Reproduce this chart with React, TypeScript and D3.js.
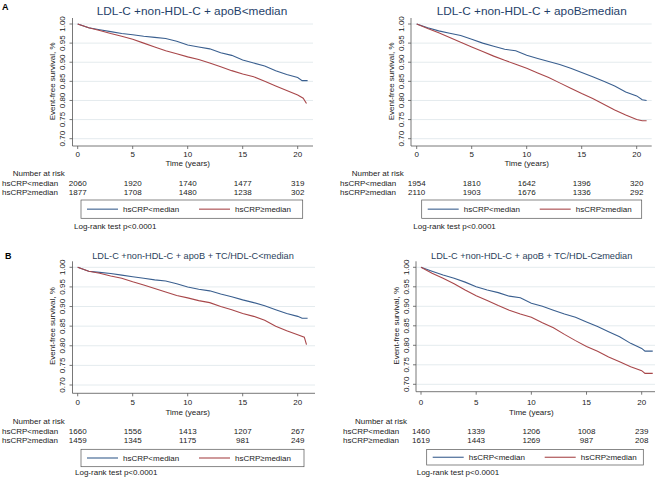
import React from "react";
import * as d3 from "d3";

// ---------- data ----------
const YEARS = [0, 1, 2, 3, 4, 5, 6, 7, 8, 9, 10, 11, 12, 13, 14, 15, 16, 17, 18, 19, 20];
const X_TICKS = [0, 5, 10, 15, 20];
const Y_TICKS = [0.7, 0.75, 0.8, 0.85, 0.9, 0.95, 1.0];
const SERIES_NAMES = ["hsCRP<median", "hsCRP\u2265median"];

const TITLES = [
  "LDL-C +non-HDL-C + apoB<median",
  "LDL-C +non-HDL-C + apoB\u2265median",
  "LDL-C +non-HDL-C + apoB + TC/HDL-C<median",
  "LDL-C +non-HDL-C + apoB + TC/HDL-C\u2265median",
];

// panel A, left
const A1_LOW_T = [...YEARS, 20.4, 20.9];
const A1_LOW = [1, 0.99, 0.985, 0.98, 0.975, 0.972, 0.968, 0.965, 0.962, 0.955, 0.945, 0.94, 0.935, 0.925, 0.918, 0.906, 0.898, 0.89, 0.878, 0.868, 0.86, 0.852, 0.852];
const A1_HIGH_T = [...YEARS, 20.5, 20.8];
const A1_HIGH = [1, 0.99, 0.983, 0.975, 0.968, 0.96, 0.95, 0.94, 0.93, 0.922, 0.914, 0.907, 0.898, 0.888, 0.878, 0.869, 0.862, 0.85, 0.838, 0.826, 0.814, 0.806, 0.792];
const A1_RISK_LOW = [2060, 1920, 1740, 1477, 319];
const A1_RISK_HIGH = [1877, 1708, 1480, 1238, 302];

// panel A, right
const A2_LOW_T = [...YEARS, 20.5, 20.9];
const A2_LOW = [1, 0.99, 0.982, 0.976, 0.97, 0.96, 0.95, 0.942, 0.934, 0.93, 0.918, 0.91, 0.902, 0.894, 0.884, 0.873, 0.862, 0.85, 0.838, 0.822, 0.812, 0.802, 0.8];
const A2_HIGH_T = [...YEARS, 20.5, 20.9];
const A2_HIGH = [1, 0.988, 0.977, 0.965, 0.952, 0.94, 0.928, 0.916, 0.905, 0.895, 0.884, 0.872, 0.86, 0.846, 0.832, 0.818, 0.805, 0.79, 0.775, 0.762, 0.75, 0.747, 0.747];
const A2_RISK_LOW = [1954, 1810, 1642, 1396, 320];
const A2_RISK_HIGH = [2110, 1903, 1676, 1336, 292];

// panel B, left
const B1_LOW_T = [...YEARS, 20.4, 20.9];
const B1_LOW = [1, 0.99, 0.987, 0.984, 0.98, 0.976, 0.972, 0.968, 0.965, 0.958, 0.95, 0.944, 0.94, 0.932, 0.925, 0.917, 0.91, 0.902, 0.892, 0.882, 0.875, 0.87, 0.87];
const B1_HIGH_T = [...YEARS, 20.6, 20.8];
const B1_HIGH = [1, 0.99, 0.985, 0.978, 0.972, 0.963, 0.955, 0.946, 0.937, 0.928, 0.922, 0.915, 0.91, 0.9, 0.892, 0.882, 0.875, 0.865, 0.85, 0.838, 0.828, 0.822, 0.803];
const B1_RISK_LOW = [1660, 1556, 1413, 1207, 267];
const B1_RISK_HIGH = [1459, 1345, 1175, 981, 249];

// panel B, right
const B2_LOW_T = [...YEARS, 20.3, 21];
const B2_LOW = [1, 0.99, 0.98, 0.972, 0.962, 0.95, 0.942, 0.935, 0.926, 0.922, 0.908, 0.9, 0.89, 0.88, 0.872, 0.86, 0.848, 0.835, 0.822, 0.805, 0.792, 0.785, 0.785];
const B2_HIGH_T = [...YEARS, 20.3, 21];
const B2_HIGH = [1, 0.985, 0.972, 0.958, 0.942, 0.927, 0.915, 0.902, 0.89, 0.88, 0.872, 0.858, 0.845, 0.828, 0.812, 0.797, 0.785, 0.77, 0.758, 0.745, 0.735, 0.728, 0.728];
const B2_RISK_LOW = [1460, 1339, 1206, 1008, 239];
const B2_RISK_HIGH = [1619, 1443, 1269, 987, 208];

// ---------- styles ----------
const FONT = "'Liberation Sans', Arial, Helvetica, sans-serif";
const BLUE = "#3a5f8f";
const RED = "#a8474a";
const GRID = "#e4ebee";
const AXIS = "#555";
const TEXT = "#222";

type Layout = {
  axisX: number; x0: number; x20: number; right: number;
  y100: number; y070: number; xAxisY: number;
  titleX: number; titleY: number; titleSize: number; titleColor: string;
  tickLabelY: number; xTitleY: number;
  nrX: number; nrY: number; rowLabelX: number; row1Y: number; row2Y: number;
  legX: number; legY: number; legW: number; legH: number;
  logX: number; logY: number;
  letter?: string; letterX?: number; letterY?: number;
};

function Panel({ L, title, lowT, low, highT, high, riskLow, riskHigh }: {
  L: Layout; title: string; lowT: number[]; low: number[]; highT: number[]; high: number[]; riskLow: number[]; riskHigh: number[];
}) {
  const x = d3.scaleLinear().domain([0, 20]).range([L.x0, L.x20]);
  const y = d3.scaleLinear().domain([0.7, 1.0]).range([L.y070, L.y100]);
  const line = d3.line<[number, number]>().x((d) => x(d[0])).y((d) => y(d[1]));
  const lowPts = lowT.map((t, i) => [t, low[i]] as [number, number]);
  const highPts = highT.map((t, i) => [t, high[i]] as [number, number]);
  const legLineX = [L.legX + 6, L.legX + 118];
  const midY = (L.y100 + L.y070) / 2;
  return (
    <g>
      {L.letter && (
        <text x={L.letterX} y={L.letterY} fontSize={9} fontWeight="bold" fill="#000" fontFamily={FONT}>{L.letter}</text>
      )}
      <text x={L.titleX} y={L.titleY} textAnchor="middle" fontSize={L.titleSize} fill={L.titleColor} fontFamily={FONT}>{title}</text>
      {Y_TICKS.map((v) => (
        <line key={"g" + v} x1={L.axisX} x2={L.right} y1={y(v)} y2={y(v)} stroke={GRID} strokeWidth={1} />
      ))}
      <line x1={L.axisX} x2={L.axisX} y1={L.y100 - 6} y2={L.xAxisY} stroke={AXIS} strokeWidth={0.8} />
      <line x1={L.axisX} x2={L.right} y1={L.xAxisY} y2={L.xAxisY} stroke={AXIS} strokeWidth={0.8} />
      {Y_TICKS.map((v) => (
        <g key={"yt" + v}>
          <line x1={L.axisX - 3} x2={L.axisX} y1={y(v)} y2={y(v)} stroke={AXIS} strokeWidth={0.8} />
          <text transform={`translate(${L.axisX - 7.5},${y(v)}) rotate(-90)`} textAnchor="middle" fontSize={8} fill={TEXT} fontFamily={FONT}>{v.toFixed(2)}</text>
        </g>
      ))}
      <text transform={`translate(${L.axisX - 17.5},${midY}) rotate(-90)`} textAnchor="middle" fontSize={8} fill={TEXT} fontFamily={FONT}>Event-free survival, %</text>
      {X_TICKS.map((t) => (
        <g key={"xt" + t}>
          <line x1={x(t)} x2={x(t)} y1={L.xAxisY} y2={L.xAxisY + 3} stroke={AXIS} strokeWidth={0.8} />
          <text x={x(t)} y={L.tickLabelY} textAnchor="middle" fontSize={8} fill={TEXT} fontFamily={FONT}>{t}</text>
        </g>
      ))}
      <text x={x(10)} y={L.xTitleY} textAnchor="middle" fontSize={8} fill={TEXT} fontFamily={FONT}>Time (years)</text>
      <path d={line(lowPts) || ""} fill="none" stroke={BLUE} strokeWidth={1.1} />
      <path d={line(highPts) || ""} fill="none" stroke={RED} strokeWidth={1.1} />
      <text x={L.nrX} y={L.nrY} fontSize={8} fill={TEXT} fontFamily={FONT}>Number at risk</text>
      <text x={L.rowLabelX} y={L.row1Y} fontSize={8} fill={TEXT} fontFamily={FONT}>{SERIES_NAMES[0]}</text>
      <text x={L.rowLabelX} y={L.row2Y} fontSize={8} fill={TEXT} fontFamily={FONT}>{SERIES_NAMES[1]}</text>
      {X_TICKS.map((t, i) => (
        <g key={"r" + t}>
          <text x={x(t)} y={L.row1Y} textAnchor="middle" fontSize={8} fill={TEXT} fontFamily={FONT}>{riskLow[i]}</text>
          <text x={x(t)} y={L.row2Y} textAnchor="middle" fontSize={8} fill={TEXT} fontFamily={FONT}>{riskHigh[i]}</text>
        </g>
      ))}
      <rect x={L.legX} y={L.legY} width={L.legW} height={L.legH} fill="#fff" stroke={AXIS} strokeWidth={0.7} />
      {[BLUE, RED].map((c, i) => (
        <g key={"l" + i}>
          <line x1={legLineX[i]} x2={legLineX[i] + 31} y1={L.legY + L.legH / 2} y2={L.legY + L.legH / 2} stroke={c} strokeWidth={1.1} />
          <text x={legLineX[i] + 36} y={L.legY + L.legH / 2 + 3} fontSize={8} fill={TEXT} fontFamily={FONT}>{SERIES_NAMES[i]}</text>
        </g>
      ))}
      <text x={L.logX} y={L.logY} fontSize={8} fill={TEXT} fontFamily={FONT}>Log-rank test p&lt;0.0001</text>
    </g>
  );
}

const LAYOUTS: Layout[] = [
  {
    axisX: 72.5, x0: 77.7, x20: 297.7, right: 313, y100: 24, y070: 138.7, xAxisY: 146,
    titleX: 192, titleY: 15, titleSize: 11.8, titleColor: "#1f3f6a",
    tickLabelY: 157, xTitleY: 166, nrX: 12.7, nrY: 176, rowLabelX: 2, row1Y: 185.5, row2Y: 195,
    legX: 81, legY: 200, legW: 221.7, legH: 18.3, logX: 74, logY: 228.5,
    letter: "A", letterX: 2, letterY: 9.5,
  },
  {
    axisX: 411, x0: 416.7, x20: 636.7, right: 651.7, y100: 24, y070: 138.7, xAxisY: 146,
    titleX: 531.7, titleY: 15, titleSize: 11.8, titleColor: "#1f3f6a",
    tickLabelY: 157, xTitleY: 166, nrX: 351.7, nrY: 176, rowLabelX: 340, row1Y: 185.5, row2Y: 195,
    legX: 421.7, legY: 200, legW: 220, legH: 18.3, logX: 413.3, logY: 228.5,
  },
  {
    axisX: 72.5, x0: 77.7, x20: 297.7, right: 315, y100: 267.3, y070: 385, xAxisY: 393.3,
    titleX: 193, titleY: 258.5, titleSize: 9.2, titleColor: "#2b3f5c",
    tickLabelY: 404.5, xTitleY: 414.5, nrX: 12.7, nrY: 424, rowLabelX: 2, row1Y: 433.5, row2Y: 443,
    legX: 81, legY: 449.3, legW: 223, legH: 17.4, logX: 75, logY: 475,
    letter: "B", letterX: 5, letterY: 258.5,
  },
  {
    axisX: 416, x0: 421, x20: 641.7, right: 655, y100: 267.3, y070: 384.3, xAxisY: 391.7,
    titleX: 531.7, titleY: 258.5, titleSize: 9.2, titleColor: "#2b3f5c",
    tickLabelY: 404.5, xTitleY: 414.5, nrX: 355, nrY: 424, rowLabelX: 343, row1Y: 433.5, row2Y: 443,
    legX: 426.7, legY: 449.5, legW: 216.6, legH: 15.5, logX: 416.7, logY: 474.5,
  },
];

export default function App() {
  return (
    <svg width={659} height={480} style={{ position: "absolute", left: 0, top: 0, background: "#fff" }}>
      <rect x={0} y={0} width={659} height={480} fill="#fff" />
      <Panel L={LAYOUTS[0]} title={TITLES[0]} lowT={A1_LOW_T} low={A1_LOW} highT={A1_HIGH_T} high={A1_HIGH} riskLow={A1_RISK_LOW} riskHigh={A1_RISK_HIGH} />
      <Panel L={LAYOUTS[1]} title={TITLES[1]} lowT={A2_LOW_T} low={A2_LOW} highT={A2_HIGH_T} high={A2_HIGH} riskLow={A2_RISK_LOW} riskHigh={A2_RISK_HIGH} />
      <Panel L={LAYOUTS[2]} title={TITLES[2]} lowT={B1_LOW_T} low={B1_LOW} highT={B1_HIGH_T} high={B1_HIGH} riskLow={B1_RISK_LOW} riskHigh={B1_RISK_HIGH} />
      <Panel L={LAYOUTS[3]} title={TITLES[3]} lowT={B2_LOW_T} low={B2_LOW} highT={B2_HIGH_T} high={B2_HIGH} riskLow={B2_RISK_LOW} riskHigh={B2_RISK_HIGH} />
    </svg>
  );
}
